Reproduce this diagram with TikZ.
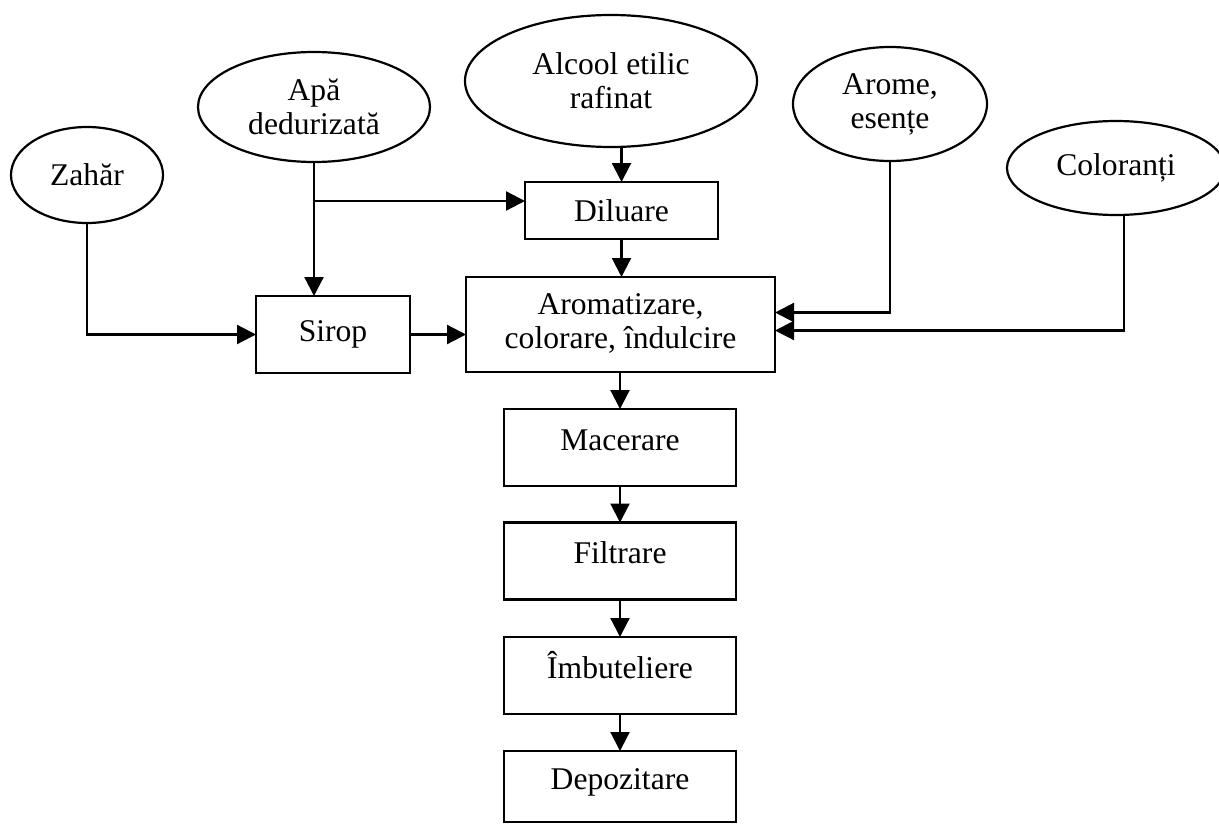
\documentclass[tikz,border=0pt]{standalone}
\usepackage{fontspec}
\setmainfont{Liberation Serif}
\usetikzlibrary{shapes.geometric,arrows.meta,calc}

\tikzset{
  base/.style={draw=black, line width=1.1pt, inner sep=0pt, outer sep=0pt,
               font=\fontsize{15.8}{17}\selectfont, align=center},
  source/.style={base, ellipse},
  stepbox/.style={base, rectangle},
  lowbox/.style={stepbox, minimum width=116pt, minimum height=38.5pt,
                 text height=0.7em, text depth=0.45em},
  flow/.style={line width=1.1pt, -{Triangle[length=9.5pt,width=9.5pt]}},
  plain/.style={line width=1.1pt}
}

\begin{document}
\begin{tikzpicture}[x=0.5pt,y=-0.5pt]
  \useasboundingbox (0,0) rectangle (1219,824);

  % raw materials
  \node[source, minimum width=76pt,  minimum height=48pt] (zahar)  at (87,175)  {Zahăr};
  \node[source, minimum width=116pt, minimum height=55pt] (apa)    at (314,107) {Apă\\dedurizată};
  \node[source, minimum width=146pt, minimum height=66pt] (alcool) at (611,81)  {Alcool etilic\\rafinat};
  \node[source, minimum width=97pt,  minimum height=57pt] (arome)  at (890,104) {Arome,\\esențe};
  \node[source, minimum width=109pt, minimum height=47pt] (colo)   at (1116,168) {Coloranți};

  % process steps
  \node[stepbox, minimum width=96.5pt, minimum height=28.5pt] (dil)   at (621.5,210.5) {Diluare};
  \node[stepbox, minimum width=77pt,   minimum height=38.5pt] (sirop) at (333,334.5)   {Sirop};
  \node[stepbox, minimum width=154.5pt, minimum height=47.5pt] (arom) at (620.5,324.5)
       {\raisebox{-2pt}{\begin{tabular}{@{}c@{}}Aromatizare,\\colorare, îndulcire\end{tabular}}};
  \node[lowbox] (mac)  at (620,447.5) {Macerare};
  \node[lowbox] (filt) at (620,561)   {Filtrare};
  \node[lowbox] (imb)  at (620,675.5) {Îmbuteliere};
  \node[lowbox, minimum height=35.5pt] (dep) at (620,786.5) {Depozitare};

  % water: to syrup and to dilution
  \draw[flow] (apa.south) -- (apa.south |- sirop.north);
  \coordinate (br) at (apa.south |- 0,201);
  \draw[flow] (br) -- (br -| dil.west);

  % sugar to syrup
  \draw[flow] (zahar.south) |- (sirop.west);

  % alcohol to dilution
  \draw[flow] (alcool.south -| dil.north) -- (dil.north);

  % into flavouring / colouring / sweetening
  \draw[flow] (dil.south) -- (dil.south |- arom.north);
  \draw[flow] (sirop.east) -- (sirop.east -| arom.west);
  \coordinate (aromIn) at ($(arom.east)+(0,-12)$);
  \draw[flow] (arome.south) |- (aromIn);
  \coordinate (coloTop) at ($(colo.south)+(8,0)$);
  \coordinate (coloIn) at ($(arom.east)+(0,6)$);
  \draw[flow] (coloTop) |- (coloIn);

  % main line
  \draw[flow] (arom.south -| mac.north) -- (mac.north);
  \draw[flow] (mac.south) -- (filt.north);
  \draw[flow] (filt.south) -- (imb.north);
  \draw[flow] (imb.south) -- (dep.north);
\end{tikzpicture}
\end{document}
